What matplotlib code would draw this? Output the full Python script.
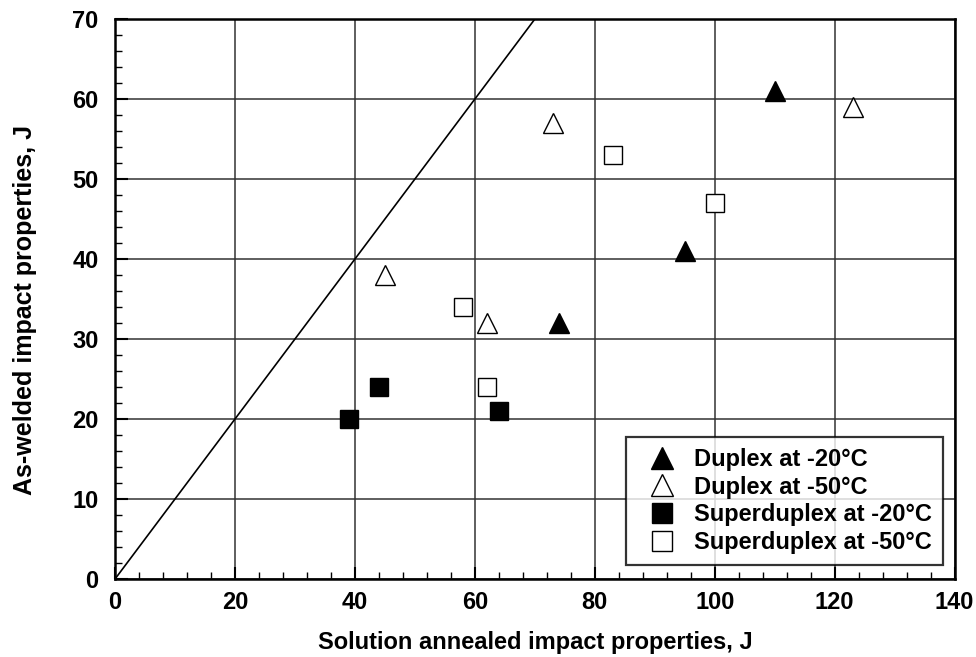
import matplotlib.pyplot as plt
from matplotlib.ticker import MultipleLocator

plt.rcParams['font.family'] = ['Liberation Sans', 'DejaVu Sans']
plt.rcParams['font.weight'] = 'bold'

# Duplex / superduplex impact energies (J)
duplex20_x = [110, 95, 74]
duplex20_y = [61, 41, 32]
duplex50_x = [123, 73, 45, 62]
duplex50_y = [59, 57, 38, 32]
super20_x = [39, 44, 64]
super20_y = [20, 24, 21]
super50_x = [83, 100, 58, 62]
super50_y = [53, 47, 34, 24]
line_xy = [0, 70]

fig = plt.figure(figsize=(9.76, 6.57), dpi=100, facecolor="white")
ax = fig.add_axes([0.118, 0.119, 0.860, 0.852])

ax.plot(line_xy, line_xy, color="black", lw=1.2, zorder=2)

ax.plot(duplex20_x, duplex20_y, ls="none", marker="^", ms=14.5, mfc="black", mec="black",
        mew=1, label="Duplex at -20\u00b0C", zorder=3)
ax.plot(duplex50_x, duplex50_y, ls="none", marker="^", ms=14.5, mfc="white", mec="black",
        mew=1, label="Duplex at -50\u00b0C", zorder=3)
ax.plot(super20_x, super20_y, ls="none", marker="s", ms=13.5, mfc="black", mec="black",
        mew=1, label="Superduplex at -20\u00b0C", zorder=3)
ax.plot(super50_x, super50_y, ls="none", marker="s", ms=13.5, mfc="white", mec="black",
        mew=1, label="Superduplex at -50\u00b0C", zorder=3)

ax.set_xlim(0, 140)
ax.set_ylim(0, 70)
ax.xaxis.set_major_locator(MultipleLocator(20))
ax.xaxis.set_minor_locator(MultipleLocator(4))
ax.yaxis.set_major_locator(MultipleLocator(10))
ax.yaxis.set_minor_locator(MultipleLocator(2))
ax.grid(True, which="major", color="#333333", lw=1.1, zorder=1)
ax.tick_params(which="both", direction="in", top=False, right=False, labelsize=17)
ax.tick_params(which="major", length=9, width=1.5)
ax.tick_params(axis="x", which="major", pad=9)
ax.tick_params(axis="y", which="major", pad=12)
ax.tick_params(which="minor", length=5, width=1)
for s in ax.spines.values():
    s.set_linewidth(1.8)
    s.set_color("black")

ax.set_xlabel("Solution annealed impact properties, J", fontsize=17, fontweight="bold", labelpad=12)
ax.set_ylabel("As-welded impact properties, J", fontsize=18, fontweight="bold")
ax.yaxis.set_label_coords(-0.093, 0.48)

leg = ax.legend(loc="lower right", bbox_to_anchor=(0.986, 0.025), fontsize=17,
                frameon=True, fancybox=False, edgecolor="black", handletextpad=0.25,
                borderpad=0.45, labelspacing=0.2, handlelength=2.2, markerscale=1.05,
                borderaxespad=0)
leg.get_frame().set_linewidth(1.6)
leg.set_zorder(5)

fig.savefig("out.png", dpi=100, facecolor="white")
